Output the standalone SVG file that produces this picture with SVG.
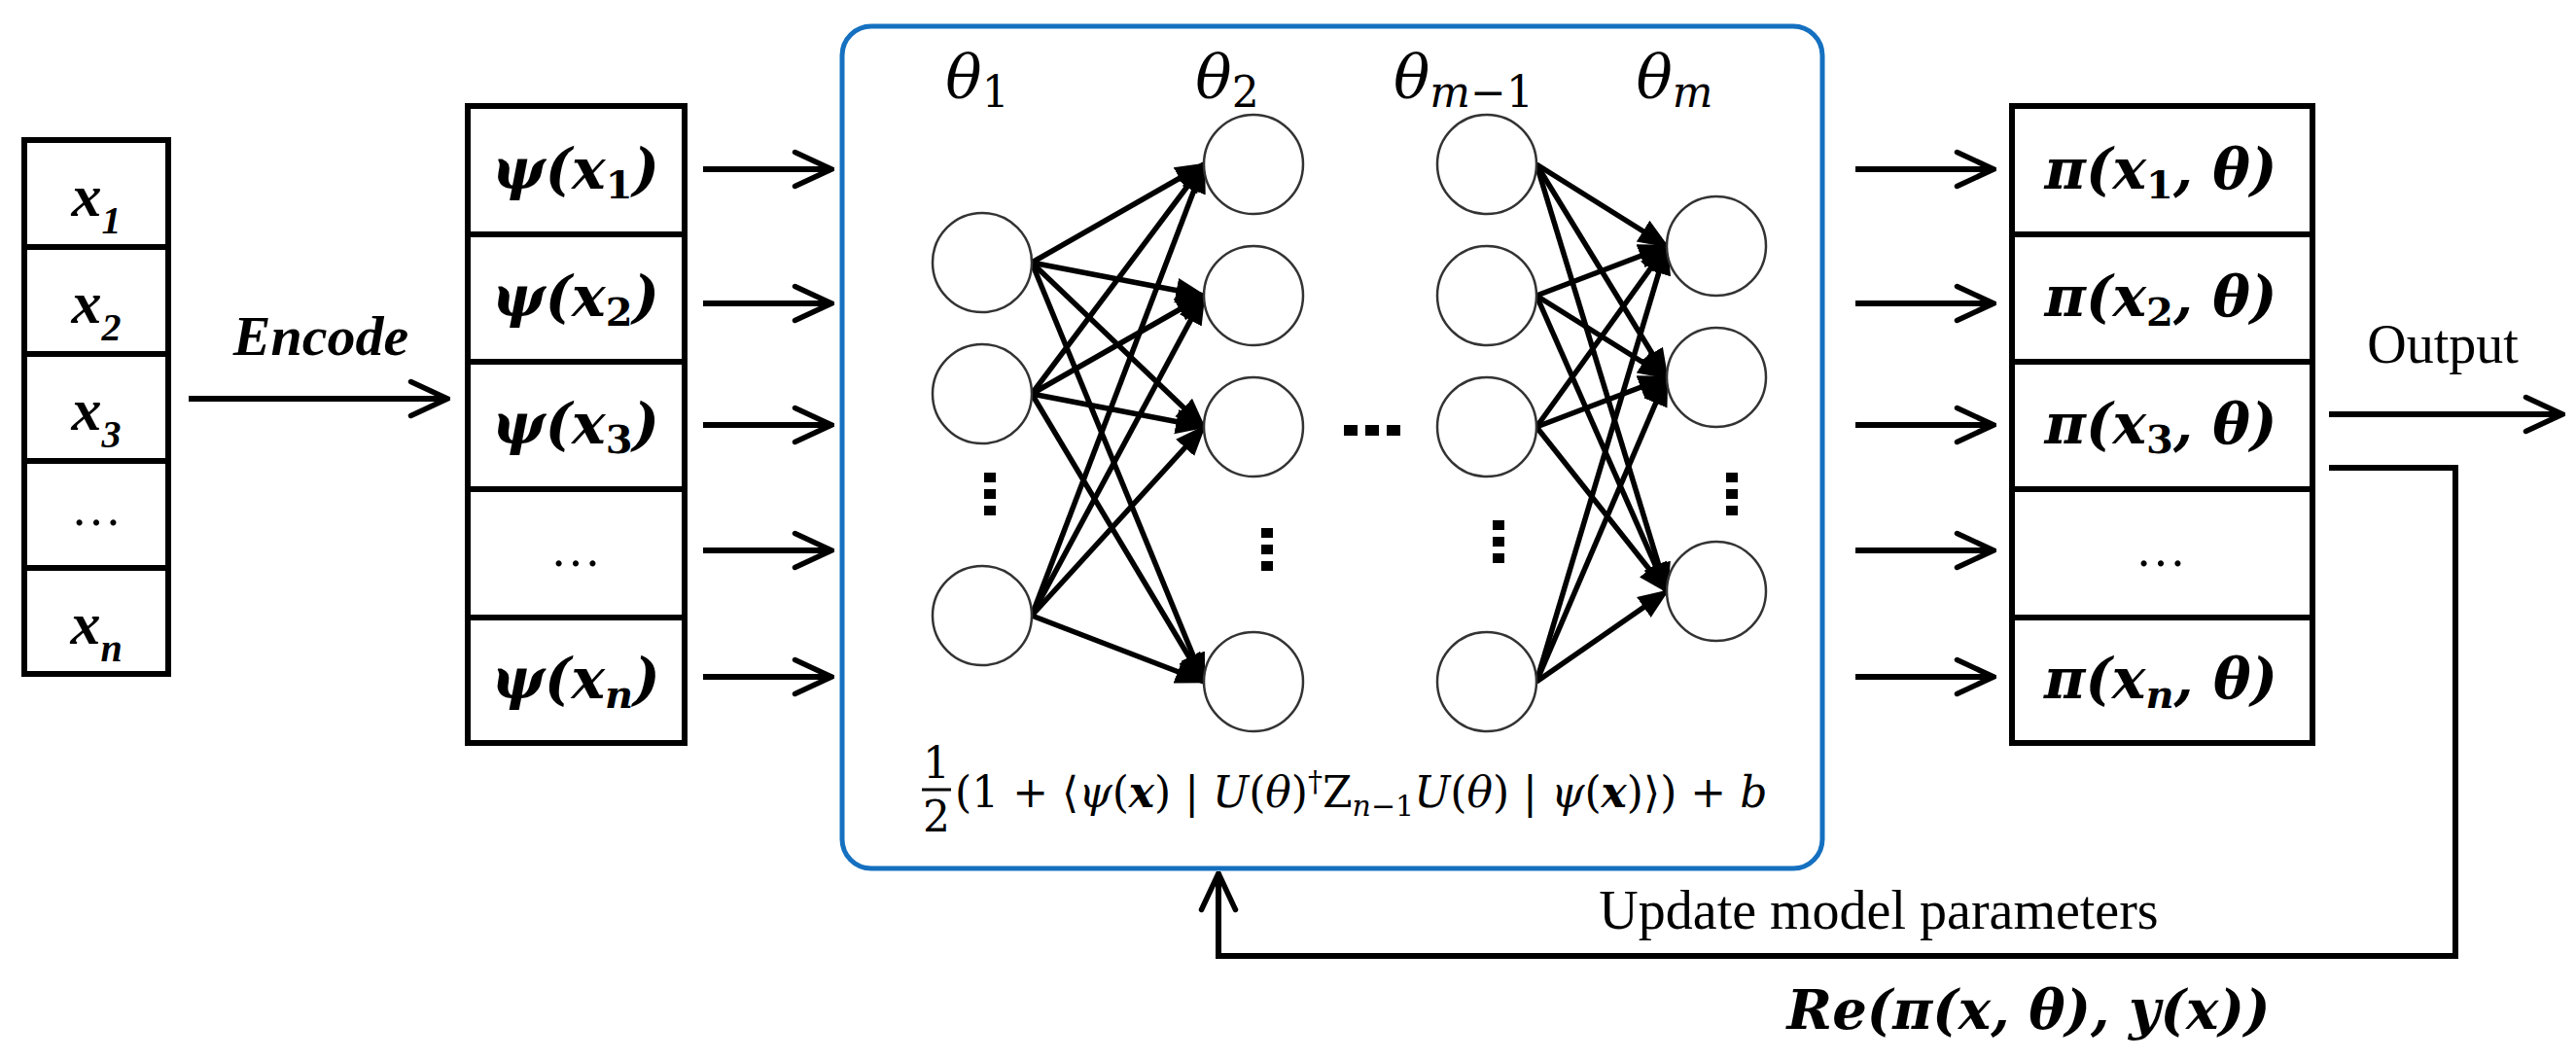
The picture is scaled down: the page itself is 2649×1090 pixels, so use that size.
<svg xmlns="http://www.w3.org/2000/svg" width="2649" height="1090" viewBox="0 0 2649 1090">
<defs>
<marker id="oa" viewBox="0 0 20 20" markerWidth="50" markerHeight="50" refX="19" refY="10" orient="auto" markerUnits="userSpaceOnUse"><path d="M4,3 L19,10 L4,17" fill="none" stroke="#000" stroke-width="2.2" stroke-linecap="round"/></marker>
<marker id="fa" viewBox="0 0 10 10" markerWidth="32" markerHeight="32" refX="9" refY="5" orient="auto" markerUnits="userSpaceOnUse"><path d="M0,1 L10,5 L0,9 Z" fill="#000"/></marker>
<style>
.box{fill:#fff;stroke:#000;stroke-width:6}
.ln{stroke:#000;stroke-width:6}
.arr{stroke:#000;stroke-width:6;fill:none;marker-end:url(#oa)}
.edge line{stroke:#000;stroke-width:5.5;marker-end:url(#fa)}
.c{fill:#fff;stroke:#333;stroke-width:2.5}
.m{font-family:"DejaVu Serif","Liberation Serif",serif;font-weight:bold;font-style:italic;font-size:58px;text-anchor:middle}
.x{font-family:"Liberation Serif",serif;font-weight:bold;font-style:italic;font-size:62px;text-anchor:middle}
.t{font-family:"DejaVu Serif","Liberation Serif",serif;font-style:italic;font-size:62px;text-anchor:middle}
.s{font-family:"Liberation Serif",serif;font-size:52px;text-anchor:middle}
.f{font-family:"DejaVu Serif","Liberation Serif",serif;font-size:44px}
.dot{fill:#000}
</style>
</defs>

<g id="input">
<rect class="box" x="25" y="144" width="148" height="549"/>
<line class="ln" x1="25" y1="254" x2="173" y2="254"/>
<line class="ln" x1="25" y1="364" x2="173" y2="364"/>
<line class="ln" x1="25" y1="474" x2="173" y2="474"/>
<line class="ln" x1="25" y1="584" x2="173" y2="584"/>
<text class="x" x="99" y="222">x<tspan font-size="40" dy="18">1</tspan></text>
<text class="x" x="99" y="332">x<tspan font-size="40" dy="18">2</tspan></text>
<text class="x" x="99" y="442">x<tspan font-size="40" dy="18">3</tspan></text>
<text class="s" x="99" y="540">…</text>
<text class="x" x="99" y="662">x<tspan font-size="40" dy="18">n</tspan></text>
</g>

<g id="encode">
<text class="x" x="330" y="365" style="font-size:58px">Encode</text>
</g>

<g id="psi">
<rect class="box" x="481" y="109" width="223" height="655"/>
<line class="ln" x1="481" y1="241" x2="704" y2="241"/>
<line class="ln" x1="481" y1="372" x2="704" y2="372"/>
<line class="ln" x1="481" y1="503" x2="704" y2="503"/>
<line class="ln" x1="481" y1="635" x2="704" y2="635"/>
<text class="m" x="592" y="194">ψ(x<tspan font-size="40" dy="10" font-style="normal">1</tspan><tspan dy="-10">)</tspan></text>
<text class="m" x="592" y="325">ψ(x<tspan font-size="40" dy="10" font-style="normal">2</tspan><tspan dy="-10">)</tspan></text>
<text class="m" x="592" y="456">ψ(x<tspan font-size="40" dy="10" font-style="normal">3</tspan><tspan dy="-10">)</tspan></text>
<text class="s" x="592" y="582">…</text>
<text class="m" x="592" y="718">ψ(x<tspan font-size="40" dy="10">n</tspan><tspan dy="-10">)</tspan></text>
</g>

<g id="network">
<rect x="866" y="27" width="1008" height="866" rx="30" fill="#fff" stroke="#1570c0" stroke-width="5"/>
<text class="t" x="1005" y="100">θ<tspan font-style="normal" font-size="44" dy="10">1</tspan></text>
<text class="t" x="1262" y="100">θ<tspan font-style="normal" font-size="44" dy="10">2</tspan></text>
<text class="t" x="1505" y="100">θ<tspan font-size="44" dy="10">m<tspan font-style="normal">−1</tspan></tspan></text>
<text class="t" x="1722" y="100">θ<tspan font-size="44" dy="10">m</tspan></text>
<g class="edge">
<line x1="1061" y1="270" x2="1238" y2="169"/><line x1="1061" y1="270" x2="1238" y2="304"/><line x1="1061" y1="270" x2="1238" y2="439"/><line x1="1061" y1="270" x2="1238" y2="701"/>
<line x1="1061" y1="405" x2="1238" y2="169"/><line x1="1061" y1="405" x2="1238" y2="304"/><line x1="1061" y1="405" x2="1238" y2="439"/><line x1="1061" y1="405" x2="1238" y2="701"/>
<line x1="1061" y1="633" x2="1238" y2="169"/><line x1="1061" y1="633" x2="1238" y2="304"/><line x1="1061" y1="633" x2="1238" y2="439"/><line x1="1061" y1="633" x2="1238" y2="701"/>
<line x1="1580" y1="169" x2="1714" y2="253"/><line x1="1580" y1="169" x2="1714" y2="388"/><line x1="1580" y1="169" x2="1714" y2="608"/>
<line x1="1580" y1="304" x2="1714" y2="253"/><line x1="1580" y1="304" x2="1714" y2="388"/><line x1="1580" y1="304" x2="1714" y2="608"/>
<line x1="1580" y1="439" x2="1714" y2="253"/><line x1="1580" y1="439" x2="1714" y2="388"/><line x1="1580" y1="439" x2="1714" y2="608"/>
<line x1="1580" y1="701" x2="1714" y2="253"/><line x1="1580" y1="701" x2="1714" y2="388"/><line x1="1580" y1="701" x2="1714" y2="608"/>
</g>
<g>
<circle class="c" cx="1010" cy="270" r="51"/><circle class="c" cx="1010" cy="405" r="51"/><circle class="c" cx="1010" cy="633" r="51"/>
<circle class="c" cx="1289" cy="169" r="51"/><circle class="c" cx="1289" cy="304" r="51"/><circle class="c" cx="1289" cy="439" r="51"/><circle class="c" cx="1289" cy="701" r="51"/>
<circle class="c" cx="1529" cy="169" r="51"/><circle class="c" cx="1529" cy="304" r="51"/><circle class="c" cx="1529" cy="439" r="51"/><circle class="c" cx="1529" cy="701" r="51"/>
<circle class="c" cx="1765" cy="253" r="51"/><circle class="c" cx="1765" cy="388" r="51"/><circle class="c" cx="1765" cy="608" r="51"/>
</g>
<g class="dot">
<rect x="1012" y="486" width="12" height="10"/><rect x="1012" y="503" width="12" height="10"/><rect x="1012" y="520" width="12" height="10"/>
<rect x="1297" y="543" width="12" height="10"/><rect x="1297" y="560" width="12" height="10"/><rect x="1297" y="577" width="12" height="10"/>
<rect x="1535" y="535" width="12" height="10"/><rect x="1535" y="552" width="12" height="10"/><rect x="1535" y="569" width="12" height="10"/>
<rect x="1775" y="486" width="12" height="10"/><rect x="1775" y="503" width="12" height="10"/><rect x="1775" y="520" width="12" height="10"/>
<rect x="1382" y="437" width="14" height="11"/><rect x="1404" y="437" width="14" height="11"/><rect x="1426" y="437" width="14" height="11"/>
</g>
<text class="f" x="963" y="800" text-anchor="middle">1</text>
<line x1="948" y1="812" x2="978" y2="812" stroke="#000" stroke-width="3"/>
<text class="f" x="963" y="855" text-anchor="middle">2</text>
<text class="f" x="982" y="830">(1 + ⟨<tspan font-style="italic">ψ</tspan>(<tspan font-style="italic" font-weight="bold">x</tspan>) | <tspan font-style="italic">U</tspan>(<tspan font-style="italic">θ</tspan>)<tspan font-size="30" dy="-16">†</tspan><tspan dy="16">Z</tspan><tspan font-size="30" dy="9"><tspan font-style="italic">n</tspan>−1</tspan><tspan dy="-9" font-style="italic">U</tspan>(<tspan font-style="italic">θ</tspan>) | <tspan font-style="italic">ψ</tspan>(<tspan font-style="italic" font-weight="bold">x</tspan>)⟩) + <tspan font-style="italic">b</tspan></text>
</g>

<g id="pi">
<rect class="box" x="2069" y="109" width="309" height="655"/>
<line class="ln" x1="2069" y1="241" x2="2378" y2="241"/>
<line class="ln" x1="2069" y1="372" x2="2378" y2="372"/>
<line class="ln" x1="2069" y1="503" x2="2378" y2="503"/>
<line class="ln" x1="2069" y1="635" x2="2378" y2="635"/>
<text class="m" x="2222" y="194">π(x<tspan font-size="40" dy="10" font-style="normal">1</tspan><tspan dy="-10">, θ)</tspan></text>
<text class="m" x="2222" y="325">π(x<tspan font-size="40" dy="10" font-style="normal">2</tspan><tspan dy="-10">, θ)</tspan></text>
<text class="m" x="2222" y="456">π(x<tspan font-size="40" dy="10" font-style="normal">3</tspan><tspan dy="-10">, θ)</tspan></text>
<text class="s" x="2222" y="582">…</text>
<text class="m" x="2222" y="718">π(x<tspan font-size="40" dy="10">n</tspan><tspan dy="-10">, θ)</tspan></text>
</g>

<g id="labels">
<text class="s" x="2512" y="373" style="font-size:56px">Output</text>
<text class="s" x="1932" y="955" style="font-size:56px">Update model parameters</text>
<text class="m" x="2086" y="1058" style="font-size:56px">Re(π(x, θ), y(x))</text>
</g>

<g id="connectors">
<line class="arr" x1="194" y1="410" x2="460" y2="410"/>
<line class="arr" x1="723" y1="174" x2="855" y2="174"/>
<line class="arr" x1="723" y1="312" x2="855" y2="312"/>
<line class="arr" x1="723" y1="437" x2="855" y2="437"/>
<line class="arr" x1="723" y1="566" x2="855" y2="566"/>
<line class="arr" x1="723" y1="696" x2="855" y2="696"/>
<line class="arr" x1="1908" y1="174" x2="2050" y2="174"/>
<line class="arr" x1="1908" y1="312" x2="2050" y2="312"/>
<line class="arr" x1="1908" y1="437" x2="2050" y2="437"/>
<line class="arr" x1="1908" y1="566" x2="2050" y2="566"/>
<line class="arr" x1="1908" y1="696" x2="2050" y2="696"/>
<line class="arr" x1="2395" y1="426" x2="2635" y2="426"/>
<path d="M2395,481 L2525,481 L2525,983 L1253,983 L1253,898" fill="none" stroke="#000" stroke-width="6" marker-end="url(#oa)"/>
</g>
</svg>
